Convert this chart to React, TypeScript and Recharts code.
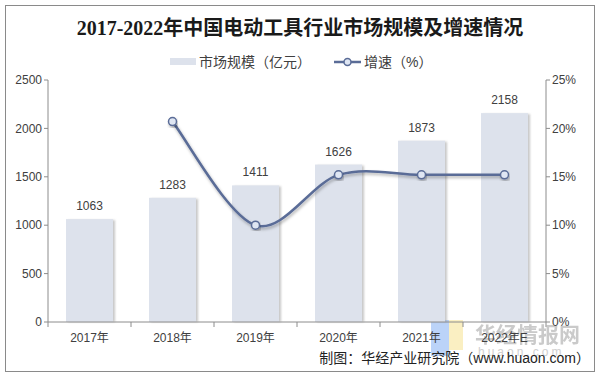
import React from 'react';
import { ComposedChart, Bar, Line, XAxis, YAxis, LabelList } from 'recharts';

const categories = ['2017年', '2018年', '2019年', '2020年', '2021年', '2022年E'];
const marketSize = [1063, 1283, 1411, 1626, 1873, 2158];
const growthRate: (number | null)[] = [null, 20.7, 10.0, 15.2, 15.2, 15.2];
const leftTicks = [0, 500, 1000, 1500, 2000, 2500];
const rightTicks = [0, 5, 10, 15, 20, 25];

const data = categories.map((c, i) => ({ name: c, size: marketSize[i], growth: growthRate[i] }));

const BAR_COLOR = '#dde2ec';
const LINE_COLOR = '#5a6c97';
const TEXT = '#404040';
const AXIS = '#8c8c8c';
const FONT = '"Liberation Sans", Arial, "Noto Sans CJK SC", sans-serif';

// Excel-like smoothed line (uniform Catmull-Rom as cubic Bezier)
const catmullRom = (context: any) => {
  let pts: number[][] = [];
  return {
    areaStart() {},
    areaEnd() {},
    lineStart() {
      pts = [];
    },
    point(x: number, y: number) {
      pts.push([+x, +y]);
    },
    lineEnd() {
      if (!pts.length) return;
      context.moveTo(pts[0][0], pts[0][1]);
      for (let i = 0; i < pts.length - 1; i++) {
        const p0 = pts[i - 1] || pts[i];
        const p1 = pts[i];
        const p2 = pts[i + 1];
        const p3 = pts[i + 2] || pts[i + 1];
        context.bezierCurveTo(
          p1[0] + (p2[0] - p0[0]) / 6,
          p1[1] + (p2[1] - p0[1]) / 6,
          p2[0] - (p3[0] - p1[0]) / 6,
          p2[1] - (p3[1] - p1[1]) / 6,
          p2[0],
          p2[1]
        );
      }
    },
  };
};

const BarShape = (props: any) => {
  const { x, y, width, height } = props;
  if (height <= 0) return null;
  return (
    <g>
      <rect x={x + 2} y={y + 1} width={width} height={height - 1} fill="#9a9a9a" opacity={0.55} filter="url(#barShadow)" />
      <rect x={x} y={y} width={width} height={height} fill={BAR_COLOR} />
    </g>
  );
};

const XTick = (props: any) => {
  const { x, y, payload, index } = props;
  const half = payload && payload.offset ? payload.offset : 41.5;
  return (
    <g>
      <line x1={x - half} y1={y - 8} x2={x - half} y2={y - 3} stroke={AXIS} />
      {index === categories.length - 1 && (
        <line x1={x + half} y1={y - 8} x2={x + half} y2={y - 3} stroke={AXIS} />
      )}
      <text x={x} y={y + 12} textAnchor="middle" fill={TEXT} fontSize={12} fontFamily={FONT}>
        {payload.value}
      </text>
    </g>
  );
};

export default function App() {
  return (
    <div style={{ position: 'absolute', left: 0, top: 0, width: 601, height: 379, background: '#fff' }}>
      <ComposedChart width={601} height={379} data={data} margin={{ top: 80, right: 0, bottom: 27, left: 0 }}>
        <defs>
          <filter id="barShadow" x="-20%" y="-5%" width="140%" height="110%">
            <feGaussianBlur stdDeviation="1.2" />
          </filter>
          <filter id="lineShadow" x="-10%" y="-10%" width="120%" height="130%">
            <feDropShadow dx="1" dy="2" stdDeviation="1.5" floodColor="#000" floodOpacity="0.3" />
          </filter>
        </defs>
        <rect x={5.5} y={5.5} width={589} height={366} fill="none" stroke="#8a8a8a" />
        <XAxis
          dataKey="name"
          stroke={AXIS}
          tickLine={false}
          tick={<XTick />}
          height={30}
          interval={0}
        />
        <YAxis
          yAxisId="left"
          width={48}
          domain={[0, 2500]}
          ticks={leftTicks}
          stroke={AXIS}
          tickSize={4}
          tick={{ fill: TEXT, fontSize: 12, fontFamily: FONT }}
        />
        <YAxis
          yAxisId="right"
          orientation="right"
          width={55}
          domain={[0, 25]}
          ticks={rightTicks}
          stroke={AXIS}
          tickSize={4}
          tickFormatter={(v: number) => `${v}%`}
          tick={{ fill: TEXT, fontSize: 12, fontFamily: FONT }}
        />
        <Bar yAxisId="left" dataKey="size" barSize={47} shape={<BarShape />} isAnimationActive={false}>
          <LabelList dataKey="size" position="top" offset={9} fill={TEXT} fontSize={12} fontFamily={FONT} />
        </Bar>
        <Line
          yAxisId="right"
          dataKey="growth"
          type={catmullRom as any}
          stroke={LINE_COLOR}
          strokeWidth={2.5}
          filter="url(#lineShadow)"
          dot={{ r: 4, fill: '#dfe6f3', stroke: LINE_COLOR, strokeWidth: 1.5 }}
          isAnimationActive={false}
        />
        <text x={300} y={35} textAnchor="middle" fontSize={20} fontWeight="bold" fill="#1a1a1a"
          fontFamily='"Liberation Serif", "Noto Sans CJK SC", serif'>
          2017-2022年中国电动工具行业市场规模及增速情况
        </text>
        <rect x={170} y={58} width={26} height={7} fill={BAR_COLOR} />
        <text x={199} y={67} fontSize={14} fill={TEXT} fontFamily={FONT}>市场规模（亿元）</text>
        <line x1={334} y1={62} x2={361} y2={62} stroke={LINE_COLOR} strokeWidth={2.5} />
        <circle cx={347.5} cy={62} r={3.5} fill="#dfe6f3" stroke={LINE_COLOR} strokeWidth={1.5} />
        <text x={364} y={67} fontSize={14} fill={TEXT} fontFamily={FONT}>增速（%）</text>
        <g opacity={0.45}>
          <rect x={431} y={320} width={18} height={36} fill="#6a9ff0" />
          <rect x={449} y={320} width={14} height={30} fill="#f4dc7a" />
        </g>
        <text x={475} y={342} fontSize={21} fontWeight="bold" fill="#b9b9b9" opacity={0.75}
          fontFamily='"Noto Sans CJK SC", sans-serif'>华经情报网</text>
        <text x={478} y={356} fontSize={12} fill="#d0d0d0" letterSpacing={3} fontFamily={FONT}>huaon.com</text>
        <text x={590} y={363} textAnchor="end" fontSize={14} fill="#222" fontFamily={FONT}>
          制图：华经产业研究院（www.huaon.com）
        </text>
      </ComposedChart>
    </div>
  );
}
